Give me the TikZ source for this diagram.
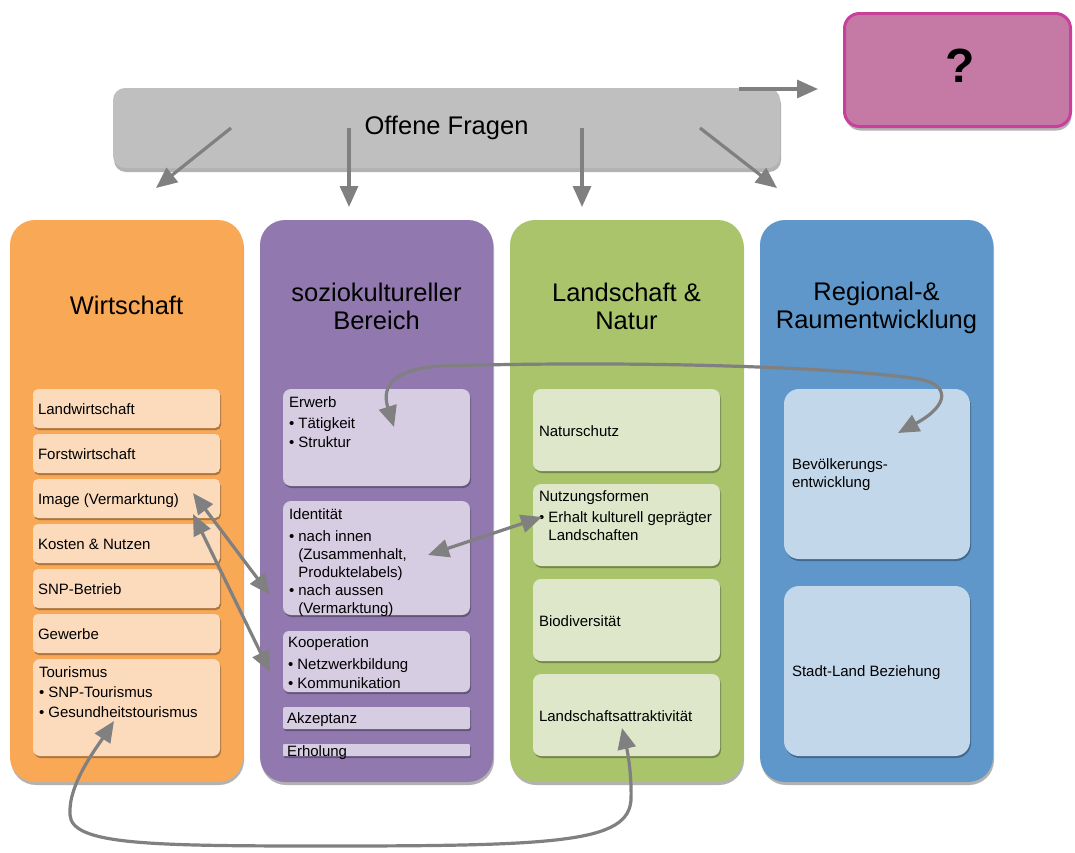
\documentclass[tikz,border=0pt]{standalone}
\usepackage{fontspec}
\setmainfont{Liberation Sans}
\usetikzlibrary{arrows.meta,shadows,positioning,calc}
\definecolor{colorange}{HTML}{F9A856}
\definecolor{orangelight}{HTML}{FCDBBD}
\definecolor{colpurple}{HTML}{9179B0}
\definecolor{purplelight}{HTML}{D7CDE3}
\definecolor{colgreen}{HTML}{A9C46B}
\definecolor{greenlight}{HTML}{DEE7CA}
\definecolor{colblue}{HTML}{5F97CA}
\definecolor{bluelight}{HTML}{C3D7EB}
\definecolor{fragengrey}{HTML}{BFBFBF}
\definecolor{arrgrey}{HTML}{808080}
\definecolor{qfill}{HTML}{C57AA6}
\definecolor{qborder}{HTML}{C8409A}
\newcommand{\bul}{\textbullet\ }
\newcommand{\ind}{\phantom{\textbullet\ }}

\begin{document}
\begin{tikzpicture}[x=1pt, y=-1pt,
    colbox/.style={rectangle, rounded corners=25pt, minimum width=233pt, minimum height=562pt, inner sep=0pt,
        drop shadow={shadow xshift=1pt, shadow yshift=-3pt, opacity=0.3, fill=black}},
    itembox/.style={rectangle, inner sep=0pt, minimum width=187pt,
        drop shadow={shadow xshift=1pt, shadow yshift=-2pt, opacity=0.3, fill=black}},
    coltitle/.style={font=\fontsize{25.5}{28}\selectfont, align=center},
    txt/.style={font=\fontsize{15}{18}\selectfont, align=left, inner sep=0pt},
    arr/.style={-{Triangle[length=21pt,width=18pt]}, line width=3.2pt, arrgrey},
    dbl/.style={{Triangle[length=21pt,width=18pt]}-{Triangle[length=21pt,width=18pt]}, line width=3.2pt, arrgrey}
]
    \useasboundingbox (0,0) rectangle (1075,852);

    % question box and open questions
    \node[rectangle, rounded corners=15pt, fill=qfill, draw=qborder, line width=3pt,
        minimum width=226pt, minimum height=113pt,
        drop shadow={shadow xshift=1pt, shadow yshift=-4pt, opacity=0.3, fill=black}] (frage) at (957.5,70) {};
    \node[font=\bfseries\fontsize{48}{50}\selectfont] (frage-t) at (960,65.5) {?};
    \node[rectangle, rounded corners=12pt, fill=fragengrey, minimum width=667pt, minimum height=80pt,
        font=\fontsize{25.5}{28}\selectfont,
        drop shadow={shadow xshift=1pt, shadow yshift=-4pt, opacity=0.3, fill=black}] (fragen) at (446.5,128) {Offene Fragen};

    % columns
    \node[colbox, fill=colorange] (wirt) at (126.5,501) {};
    \node[colbox, fill=colpurple] (sozio) at (376.5,501) {};
    \node[colbox, fill=colgreen] (land) at (626.5,501) {};
    \node[colbox, fill=colblue] (raum) at (876.5,501) {};

    \node[coltitle] (wirt-t) at (126.5,305) {Wirtschaft};
    \node[coltitle] (sozio-t) at (376.5,306) {soziokultureller\\Bereich};
    \node[coltitle] (land-t) at (626.5,306) {Landschaft \&\\Natur};
    \node[coltitle] (raum-t) at (876.5,308) {Regional-\&\\Raumentwicklung};

    % Wirtschaft
    \foreach \y/\nm/\lbl in {408.5/lw/Landwirtschaft, 453.5/fw/Forstwirtschaft,
            498.5/img/Image (Vermarktung), 543.5/kost/Kosten \& Nutzen,
            588.5/snp/SNP-Betrieb, 633.5/gew/Gewerbe} {
        \node[itembox, fill=orangelight, minimum height=39pt, rounded corners=5pt] (\nm) at (126.5,\y) {};
        \node[txt, anchor=base west] (\nm-t) at ([xshift=5pt,yshift=-5.5pt]\nm.west) {\lbl};
    }
    \node[itembox, fill=orangelight, minimum height=97pt, rounded corners=7pt] (tour) at (126.5,707.5) {};
    \node[txt, anchor=north west] (tour-t) at ([xshift=6pt,yshift=-8pt]tour.north west)
        {Tourismus\\[2pt]\bul SNP-Tourismus\\[2pt]\bul Gesundheitstourismus};

    % soziokultureller Bereich
    \node[itembox, fill=purplelight, minimum height=97pt, rounded corners=8pt] (erw) at (376.5,437.5) {};
    \node[txt, anchor=north west] (erw-t) at ([xshift=6pt,yshift=-8pt]erw.north west)
        {Erwerb\\[3pt]\bul Tätigkeit\\[1pt]\bul Struktur};
    \node[itembox, fill=purplelight, minimum height=114pt, rounded corners=8pt] (iden) at (376.5,558) {};
    \node[txt, anchor=north west] (iden-t) at ([xshift=6pt,yshift=-8pt]iden.north west)
        {Identität\\[4pt]\bul nach innen\\\ind(Zusammenhalt,\\\ind Produktelabels)\\\bul nach aussen\\\ind(Vermarktung)};
    \node[itembox, fill=purplelight, minimum height=61pt, rounded corners=6pt] (koop) at (376.5,661.5) {};
    \node[txt, anchor=north west] (koop-t) at ([xshift=5pt,yshift=-6pt]koop.north west)
        {Kooperation\\[4pt]\bul Netzwerkbildung\\[1pt]\bul Kommunikation};
    \node[itembox, fill=purplelight, minimum height=22pt, rounded corners=2pt] (akz) at (376.5,718) {};
    \node[txt, anchor=base west] (akz-t) at ([xshift=4pt,yshift=-5.5pt]akz.west) {Akzeptanz};
    \node[itembox, fill=purplelight, minimum height=12pt, rounded corners=1pt] (erh) at (376.5,750) {};
    \node[txt, anchor=base west] (erh-t) at ([xshift=4pt,yshift=-6pt]erh.west) {Erholung};

    % Landschaft & Natur
    \foreach \y/\nm/\lbl in {430/nat/Naturschutz, 620/bio/Biodiversität, 715/attr/Landschaftsattraktivität} {
        \node[itembox, fill=greenlight, minimum height=82pt, rounded corners=8pt] (\nm) at (626.5,\y) {};
        \node[txt, anchor=base west] (\nm-t) at ([xshift=6pt,yshift=-6pt]\nm.west) {\lbl};
    }
    \node[itembox, fill=greenlight, minimum height=82pt, rounded corners=8pt] (nutz) at (626.5,525) {};
    \node[txt, anchor=north west] (nutz-t) at ([xshift=6pt,yshift=-7pt]nutz.north west)
        {Nutzungsformen\\[3pt]\bul Erhalt kulturell geprägter\\\ind Landschaften};

    % Regional- & Raumentwicklung
    \node[itembox, fill=bluelight, minimum width=186pt, minimum height=170pt, rounded corners=15pt] (bev) at (877,474) {};
    \node[txt, anchor=west] (bev-t) at ([xshift=8pt,yshift=-1pt]bev.west) {Bevölkerungs-\\entwicklung};
    \node[itembox, fill=bluelight, minimum width=186pt, minimum height=170pt, rounded corners=15pt] (stadt) at (877,671) {};
    \node[txt, anchor=base west] (stadt-t) at ([xshift=8pt,yshift=-5.5pt]stadt.west) {Stadt-Land Beziehung};

    % arrow ends
    \coordinate (fr-w) at (231,128);   \coordinate (to-w) at (156,188);
    \coordinate (fr-s) at (349,128);   \coordinate (to-s) at (349,207);
    \coordinate (fr-l) at (582,128);   \coordinate (to-l) at (582,207);
    \coordinate (fr-r) at (700,128);   \coordinate (to-r) at (777,188);
    \coordinate (fr-q) at (739,89);    \coordinate (to-q) at (818,89);
    \coordinate (img-a) at (193,493);  \coordinate (img-b) at (193,514);
    \coordinate (iden-a) at (270,595); \coordinate (koop-a) at (270,672);
    \coordinate (iden-b) at (428,555); \coordinate (nutz-a) at (542,517);
    \coordinate (erw-a) at (394,427);  \coordinate (bev-a) at (898,433);
    \coordinate (tour-a) at (114,721); \coordinate (attr-a) at (622,728);

    \draw[arr] (fr-w) -- (to-w);
    \draw[arr] (fr-s) -- (to-s);
    \draw[arr] (fr-l) -- (to-l);
    \draw[arr] (fr-r) -- (to-r);
    \draw[arr] (fr-q) -- (to-q);

    \draw[dbl] (img-a) -- (iden-a);
    \draw[dbl] (img-b) -- (koop-a);
    \draw[dbl] (iden-b) -- (nutz-a);
    \draw[dbl] (erw-a) .. controls (383,392) and (385,370) .. (440,366)
        .. controls (650,360) and (850,368) .. (918,379)
        .. controls (950,384) and (950,405) .. (bev-a);
    \draw[dbl] (tour-a) .. controls (95,750) and (68,785) .. (70,815)
        .. controls (72,845) and (150,846) .. (330,846)
        .. controls (560,846) and (628,842) .. (631,800)
        .. controls (632,770) and (626,745) .. (attr-a);
\end{tikzpicture}
\end{document}
